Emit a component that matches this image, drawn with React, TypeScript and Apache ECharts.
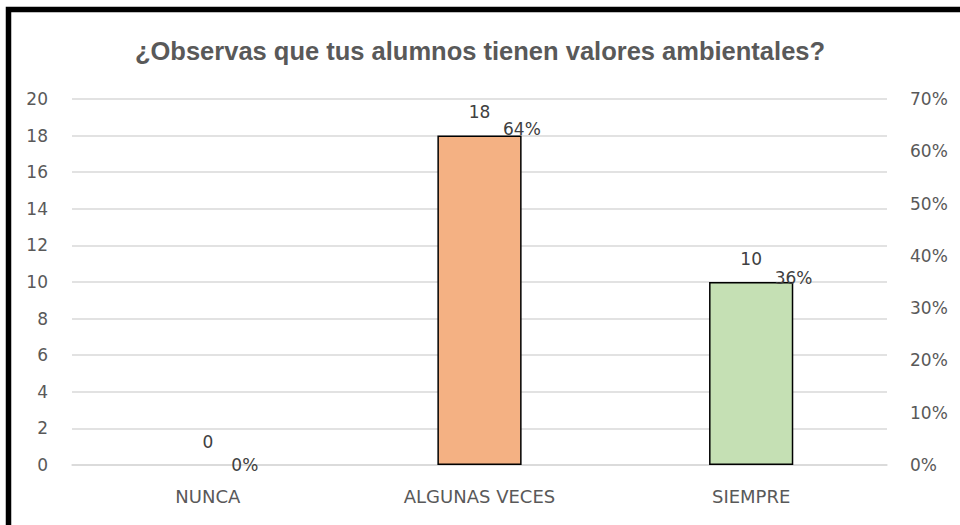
import React, { useEffect, useRef } from "react";
import * as echarts from "echarts";

const categories = ["NUNCA", "ALGUNAS VECES", "SIEMPRE"];
const counts = [0, 18, 10];
const percents = [0, 0.6429, 0.3571];
const barColors = ["#F4B183", "#F4B183", "#C5E0B4"];
const titleText = "¿Observas que tus alumnos tienen valores ambientales?";

export default function App() {
  const ref = useRef<HTMLDivElement>(null);
  useEffect(() => {
    document.body.style.margin = "0";
    const chart = echarts.init(ref.current!, null, { renderer: "svg" });
    const font = "'DejaVu Sans', sans-serif";
    chart.setOption({
      animation: false,
      backgroundColor: "#ffffff",
      title: {
        text: titleText,
        left: "center",
        top: 33,
        textStyle: {
          fontFamily: "'Liberation Sans', Arial, sans-serif",
          fontWeight: "bold",
          fontSize: 25.5,
          color: "#595959",
        },
      },
      graphic: [
        {
          type: "rect",
          shape: { x: 8.5, y: 9.5, width: 1200, height: 1200 },
          style: { fill: "none", stroke: "#000000", lineWidth: 5.5 },
          z: 100,
        },
      ],
      grid: { left: 72, right: 73, top: 99, bottom: 60 },
      xAxis: {
        type: "category",
        data: categories,
        axisLine: { lineStyle: { color: "#d9d9d9", width: 1.5 } },
        axisTick: { show: false },
        axisLabel: { color: "#595959", fontSize: 18, fontFamily: font, margin: 22 },
      },
      yAxis: [
        {
          type: "value",
          min: 0,
          max: 20,
          interval: 2,
          axisLine: { show: false },
          axisTick: { show: false },
          splitLine: { lineStyle: { color: "#d9d9d9", width: 1.5 } },
          axisLabel: { color: "#595959", fontSize: 17, fontFamily: font, margin: 24 },
        },
        {
          type: "value",
          min: 0,
          max: 0.7,
          interval: 0.1,
          axisLine: { show: false },
          axisTick: { show: false },
          splitLine: { show: false },
          axisLabel: {
            color: "#595959",
            fontSize: 17,
            fontFamily: font,
            margin: 23,
            formatter: (v: number) => Math.round(v * 100) + "%",
          },
        },
      ],
      series: [
        {
          type: "bar",
          yAxisIndex: 0,
          barWidth: "31%",
          data: counts.map((v, i) => ({
            value: v,
            itemStyle: {
              color: barColors[i],
              borderColor: "#000000",
              borderWidth: v === 0 ? 0 : 1.5,
            },
          })),
          label: {
            show: true,
            position: "top",
            distance: 15,
            color: "#404040",
            fontSize: 17,
            fontFamily: font,
          },
        },
        {
          type: "line",
          yAxisIndex: 1,
          data: percents,
          symbol: "circle",
          symbolSize: 1,
          itemStyle: { color: "transparent" },
          lineStyle: { width: 0, opacity: 0 },
          label: {
            show: true,
            position: "right",
            distance: 23,
            color: "#404040",
            fontSize: 17,
            fontFamily: font,
            formatter: (p: any) => Math.round(p.value * 100) + "%",
          },
          z: 10,
        },
      ],
    });
    return () => chart.dispose();
  }, []);
  return <div ref={ref} style={{ width: 960, height: 525 }} />;
}
